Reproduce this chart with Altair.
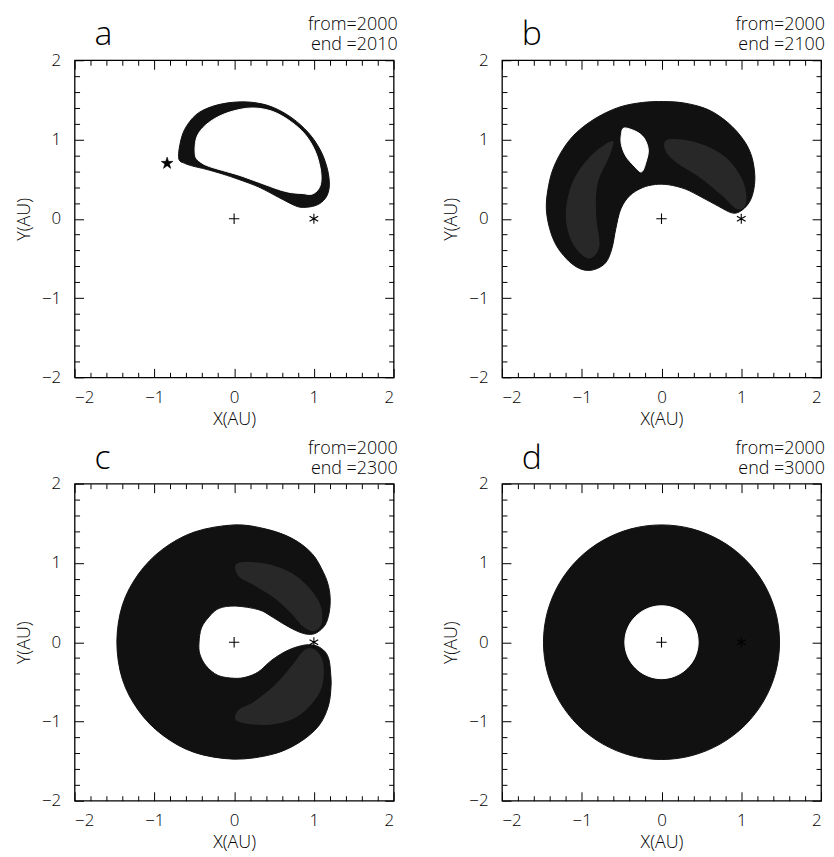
import altair as alt
import pandas as pd

# ---------------- data ----------------
PANELS = ["a", "b", "c", "d"]
YEAR_FROM = 2000
YEAR_END = [2010, 2100, 2300, 3000]

MAJOR = [-2, -1, 0, 1, 2]
MINOR = [-1.8, -1.6, -1.4, -1.2, -0.8, -0.6, -0.4, -0.2,
         0.2, 0.4, 0.6, 0.8, 1.2, 1.4, 1.6, 1.8]

SUN_X, SUN_Y = [0.0], [0.0]          # "+"
EARTH_X, EARTH_Y = [1.0], [0.0]      # "*"
START_X, START_Y = [-0.84], [0.70]   # filled star (panel a)

# panel a : band (outer edge, inner edge)
A_OUT_X = [-0.692, -0.683, -0.621, -0.476, -0.269, -0.021, 0.228, 0.476, 0.725, 0.932,
           1.077, 1.159, 1.193, 1.180, 1.118, 1.015, 0.870, 0.766, 0.559, 0.311,
           0.062, -0.145, -0.352, -0.518, -0.621]
A_OUT_Y = [0.750, 0.918, 1.126, 1.314, 1.419, 1.469, 1.469, 1.411, 1.273, 1.085,
           0.875, 0.667, 0.479, 0.332, 0.228, 0.165, 0.144, 0.165, 0.270, 0.400,
           0.495, 0.565, 0.625, 0.665, 0.700]
A_IN_X = [-0.484, -0.476, -0.393, -0.228, -0.021, 0.228, 0.476, 0.704, 0.890, 1.015,
          1.077, 1.089, 1.056, 0.973, 0.850, 0.720, 0.559, 0.311, 0.062, -0.145,
          -0.311, -0.414]
A_IN_Y = [0.792, 1.001, 1.147, 1.273, 1.357, 1.398, 1.357, 1.231, 1.064, 0.855,
          0.646, 0.479, 0.374, 0.310, 0.320, 0.330, 0.370, 0.460, 0.550, 0.610,
          0.660, 0.710]

# panel b : kidney (outer edge), small lens-shaped hole, lighter hatched zones
B_OUT_X = [0.029, 0.299, 0.589, 0.838, 1.025, 1.129, 1.170, 1.149, 1.087, 0.983,
           0.880, 0.714, 0.506, 0.299, 0.091, -0.075, -0.241, -0.398, -0.510, -0.573,
           -0.622, -0.697, -0.822, -0.946, -1.071, -1.195, -1.320, -1.402, -1.444, -1.423,
           -1.361, -1.237, -1.071, -0.822, -0.531, -0.241]
B_OUT_Y = [1.479, 1.458, 1.375, 1.208, 1.000, 0.792, 0.542, 0.333, 0.188, 0.092,
           0.075, 0.158, 0.271, 0.375, 0.429, 0.433, 0.392, 0.292, 0.125, -0.125,
           -0.375, -0.550, -0.633, -0.650, -0.604, -0.500, -0.333, -0.125, 0.125, 0.375,
           0.625, 0.875, 1.083, 1.271, 1.408, 1.467]
B_HOLE_X = [-0.469, -0.324, -0.220, -0.166, -0.191, -0.249, -0.345, -0.448, -0.503, -0.503]
B_HOLE_Y = [1.146, 1.104, 1.021, 0.875, 0.729, 0.592, 0.667, 0.792, 0.938, 1.063]
B_HATCH1_X = [-0.62, -0.90, -1.12, -1.20, -1.12, -0.92, -0.78, -0.82, -0.80, -0.65]
B_HATCH1_Y = [0.98, 0.78, 0.45, 0.05, -0.30, -0.50, -0.35, 0.05, 0.45, 0.80]
B_HATCH2_X = [0.08, 0.45, 0.80, 1.02, 1.06, 0.95, 0.75, 0.48, 0.20, 0.05]
B_HATCH2_Y = [1.00, 0.96, 0.78, 0.48, 0.20, 0.12, 0.30, 0.52, 0.70, 0.86]

# panel c : horseshoe (one closed outline) and lighter hatched zones
C_X = [0.932, 1.036, 1.140, 1.190, 1.205, 1.185, 1.120, 0.975, 0.725, 0.390,
       0.000, -0.500, -0.900, -1.200, -1.400, -1.470, -1.400, -1.200, -0.900, -0.500,
       0.000, 0.476, 0.808, 1.057, 1.180, 1.215, 1.210, 1.190, 1.140, 1.036,
       0.891, 0.683, 0.475, 0.309, 0.150, 0.000, -0.200, -0.350, -0.430, -0.440,
       -0.410, -0.314, -0.189, 0.018, 0.309, 0.475, 0.642, 0.808]
C_Y = [0.099, 0.120, 0.217, 0.364, 0.530, 0.700, 0.880, 1.120, 1.310, 1.430,
       1.480, 1.390, 1.170, 0.860, 0.470, 0.000, -0.470, -0.860, -1.170, -1.390,
       -1.475, -1.415, -1.270, -1.060, -0.810, -0.560, -0.390, -0.224, -0.120, -0.048,
       -0.035, -0.098, -0.224, -0.371, -0.440, -0.455, -0.420, -0.300, -0.150, 0.000,
       0.180, 0.321, 0.427, 0.456, 0.410, 0.321, 0.217, 0.132]
C_HATCH1_X = [0.05, 0.45, 0.80, 1.06, 1.10, 1.00, 0.86, 0.70, 0.50, 0.25, 0.05]
C_HATCH1_Y = [1.00, 0.98, 0.82, 0.52, 0.25, 0.14, 0.20, 0.38, 0.56, 0.72, 0.84]
C_HATCH2_X = [0.05, 0.45, 0.82, 1.08, 1.12, 1.02, 0.88, 0.72, 0.50, 0.25, 0.05]
C_HATCH2_Y = [-1.00, -1.04, -0.92, -0.62, -0.28, -0.10, -0.10, -0.30, -0.55, -0.75, -0.86]

# panel d : ring (outer edge, inner edge)
D_OUT_X = [1.480, 1.430, 1.282, 1.047, 0.740, 0.383, 0.000, -0.383, -0.740, -1.047, -1.282, -1.430,
           -1.480, -1.430, -1.282, -1.047, -0.740, -0.383, 0.000, 0.383, 0.740, 1.047, 1.282, 1.430]
D_OUT_Y = [0.000, 0.383, 0.740, 1.047, 1.282, 1.430, 1.480, 1.430, 1.282, 1.047, 0.740, 0.383,
           0.000, -0.383, -0.740, -1.047, -1.282, -1.430, -1.480, -1.430, -1.282, -1.047, -0.740, -0.383]
D_IN_X = [0.460, 0.444, 0.398, 0.325, 0.230, 0.119, 0.000, -0.119, -0.230, -0.325, -0.398, -0.444,
          -0.460, -0.444, -0.398, -0.325, -0.230, -0.119, 0.000, 0.119, 0.230, 0.325, 0.398, 0.444]
D_IN_Y = [0.000, 0.119, 0.230, 0.325, 0.398, 0.444, 0.460, 0.444, 0.398, 0.325, 0.230, 0.119,
          0.000, -0.119, -0.230, -0.325, -0.398, -0.444, -0.460, -0.444, -0.398, -0.325, -0.230, -0.119]

# ---------------- chart ----------------
W, H = 321, 319
FONT = "Open Sans"
INK = "#111111"
HATCH = "#282828"
PLUS = "M-1,0L1,0M0,-1L0,1"
ASTER = "M0,-1L0,1M-0.87,-0.5L0.87,0.5M-0.87,0.5L0.87,-0.5"
STAR = ("M0,-1L0.225,-0.309L0.951,-0.309L0.363,0.118L0.588,0.809L0,0.382"
        "L-0.588,0.809L-0.363,0.118L-0.951,-0.309L-0.225,-0.309Z")


def sc():
    return alt.Scale(domain=[-2, 2], nice=False, zero=False)


def axes(kind):
    common = dict(domain=False, grid=False, tickColor="black", tickWidth=1,
                  labelFont=FONT, labelFontSize=17, labelFontWeight=300, labelColor="black",
                  titleFont=FONT, titleFontSize=18, titleFontWeight=300, titleColor="black")
    if kind == "main":
        ax = alt.Axis(orient="bottom", values=MAJOR, format="d", tickSize=9, offset=-9,
                      labelPadding=12, title="X(AU)", titlePadding=5, **common)
        ay = alt.Axis(orient="left", values=MAJOR, format="d", tickSize=9, offset=-9,
                      labelPadding=14, title="Y(AU)", titlePadding=8, **common)
    elif kind == "minor":
        ax = alt.Axis(orient="bottom", values=MINOR, tickSize=5, offset=-5, labels=False,
                      title=None, **common)
        ay = alt.Axis(orient="left", values=MINOR, tickSize=5, offset=-5, labels=False,
                      title=None, **common)
    elif kind == "topmajor":
        ax = alt.Axis(orient="top", values=MAJOR, tickSize=9, offset=-9, labels=False,
                      title=None, **common)
        ay = alt.Axis(orient="right", values=MAJOR, tickSize=9, offset=-9, labels=False,
                      title=None, **common)
    else:
        ax = alt.Axis(orient="top", values=MINOR, tickSize=5, offset=-5, labels=False,
                      title=None, **common)
        ay = alt.Axis(orient="right", values=MINOR, tickSize=5, offset=-5, labels=False,
                      title=None, **common)
    return ax, ay


def axis_layer(kind):
    ax, ay = axes(kind)
    df = pd.DataFrame({"x": SUN_X, "y": SUN_Y})
    return alt.Chart(df).mark_point(opacity=0).encode(
        x=alt.X("x:Q", scale=sc(), axis=ax), y=alt.Y("y:Q", scale=sc(), axis=ay))


def poly(xs, ys, color, width=1.0):
    df = pd.DataFrame({"x": xs, "y": ys, "i": list(range(len(xs)))})
    return alt.Chart(df).mark_line(fill=color, stroke=color, strokeWidth=width,
                                   interpolate="cardinal-closed").encode(
        x=alt.X("x:Q", scale=sc(), axis=None),
        y=alt.Y("y:Q", scale=sc(), axis=None),
        order="i:Q")


def marker(xs, ys, shape, size, filled):
    df = pd.DataFrame({"x": xs, "y": ys})
    if filled:
        m = alt.Chart(df).mark_point(shape=shape, size=size, filled=True, fill="black",
                                     stroke="black", strokeWidth=0.5, opacity=1)
    else:
        m = alt.Chart(df).mark_point(shape=shape, size=size, filled=False, stroke="black",
                                     strokeWidth=1.1, opacity=1)
    return m.encode(x=alt.X("x:Q", scale=sc(), axis=None),
                    y=alt.Y("y:Q", scale=sc(), axis=None))


def label(text, x, y, size, align, weight=300):
    df = pd.DataFrame({"t": [text]})
    return alt.Chart(df).mark_text(font=FONT, fontSize=size, fontWeight=weight, align=align,
                                   baseline="alphabetic", color="black").encode(
        text="t:N", x=alt.value(x), y=alt.value(y))


def panel(k):
    layers = [axis_layer("main"), axis_layer("minor"), axis_layer("topmajor"),
              axis_layer("topminor")]
    if k == 0:
        layers += [poly(A_OUT_X, A_OUT_Y, INK), poly(A_IN_X, A_IN_Y, "white")]
    elif k == 1:
        layers += [poly(B_OUT_X, B_OUT_Y, INK),
                   poly(B_HATCH1_X, B_HATCH1_Y, HATCH, 0),
                   poly(B_HATCH2_X, B_HATCH2_Y, HATCH, 0),
                   poly(B_HOLE_X, B_HOLE_Y, "white")]
    elif k == 2:
        layers += [poly(C_X, C_Y, INK),
                   poly(C_HATCH1_X, C_HATCH1_Y, HATCH, 0),
                   poly(C_HATCH2_X, C_HATCH2_Y, HATCH, 0)]
    else:
        layers += [poly(D_OUT_X, D_OUT_Y, INK), poly(D_IN_X, D_IN_Y, "white")]
    layers.append(marker(SUN_X, SUN_Y, PLUS, 110, False))
    layers.append(marker(EARTH_X, EARTH_Y, ASTER, 100, False))
    if k == 0:
        layers.append(marker(START_X, START_Y, STAR, 160, True))
    layers.append(label(PANELS[k], 20, -15, 34, "left", 200))
    layers.append(label(f"from={YEAR_FROM}", W + 4, -30, 18, "right"))
    layers.append(label(f"end ={YEAR_END[k]}", W + 4, -10, 18, "right"))
    return alt.layer(*layers).resolve_scale(x="shared", y="shared").resolve_axis(
        x="independent", y="independent").properties(width=W, height=H)


top = alt.hconcat(panel(0), panel(1), spacing=43)
bottom = alt.hconcat(panel(2), panel(3), spacing=43)
chart = alt.vconcat(top, bottom, spacing=10).properties(
    padding={"left": 6, "top": 5, "right": 0, "bottom": 0}
).configure(background="white").configure_view(stroke="black", strokeWidth=1.3)

chart.save("out.html", embed_options={"renderer": "svg", "actions": False})
